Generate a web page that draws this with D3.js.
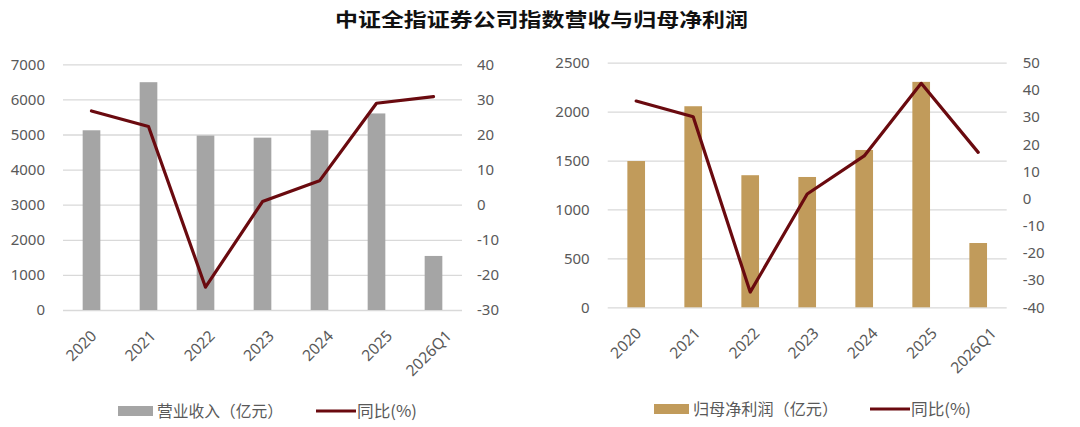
<!DOCTYPE html>
<html><head><meta charset="utf-8">
<script src="https://cdn.jsdelivr.net/npm/d3@7"></script>
<style>
body{margin:0;background:#fff;}
svg{display:block;font-family:"Noto Sans CJK SC","Noto Sans",sans-serif;}
</style></head>
<body><svg id="c" width="1080" height="427"></svg>
<script>
const categories = ["2020","2021","2022","2023","2024","2025","2026Q1"];
const revenue = [5120, 6490, 4970, 4910, 5120, 5600, 1540];
const revenueYoY = [26.7, 22.3, -23.5, 0.9, 6.8, 28.9, 30.8];
const profit = [1495, 2055, 1350, 1332, 1608, 2304, 657];
const profitYoY = [35.9, 30.1, -34.4, 1.7, 15.7, 42.4, 17.0];
const leftTicksA = [0,1000,2000,3000,4000,5000,6000,7000];
const rightTicksA = [-30,-20,-10,0,10,20,30,40];
const leftTicksB = [0,500,1000,1500,2000,2500];
const rightTicksB = [-40,-30,-20,-10,0,10,20,30,40,50];
const title = "中证全指证券公司指数营收与归母净利润";

const svg = d3.select("#c");
const LINE = "#6A0A0F", GRID = "#D9D9D9", TXT = "#595959";
const NUMFONT = "'Noto Sans',sans-serif";

svg.append("text").attr("x", 541.5).attr("y", 27).attr("text-anchor","middle")
  .attr("font-size", 19).attr("font-weight","bold").attr("fill","#111")
  .attr("textLength", 413).attr("lengthAdjust","spacingAndGlyphs").text(title);

function panel(o){
  const g = svg.append("g");
  const x = d3.scaleBand().domain(categories).range([o.x0, o.x1]).paddingInner(0.69).paddingOuter(0.345);
  const xl = d3.scalePoint().domain(categories).range([o.x0+34, o.x1-10]);
  const yl = d3.scaleLinear().domain([o.lt[0], o.lt[o.lt.length-1]]).range([o.yb, o.yt]);
  const yr = d3.scaleLinear().domain([o.rt[0], o.rt[o.rt.length-1]]).range([o.yb, o.yt]);
  // grid + left axis
  g.append("g").attr("transform",`translate(${o.x0},0)`)
    .call(d3.axisLeft(yl).tickValues(o.lt).tickSize(-(o.x1-o.x0)).tickPadding(18).tickFormat(d=>String(d)))
    .call(a=>a.select(".domain").remove())
    .call(a=>a.selectAll("line").attr("stroke",GRID).attr("stroke-width",1.3))
    .call(a=>a.selectAll("text").attr("fill",TXT).attr("font-size",15).attr("font-family",NUMFONT));
  g.append("g").attr("transform",`translate(${o.x1},0)`)
    .call(d3.axisRight(yr).tickValues(o.rt).tickSize(0).tickPadding(o.rpad).tickFormat(d=>String(d)))
    .call(a=>a.select(".domain").remove())
    .call(a=>a.selectAll("text").attr("fill",TXT).attr("font-size",15).attr("font-family",NUMFONT));
  // bars
  g.selectAll("rect.bar").data(o.bars).join("rect").attr("class","bar")
    .attr("x",(d,i)=>x(categories[i])).attr("width",x.bandwidth())
    .attr("y",d=>yl(d)).attr("height",d=>yl(0)-yl(d)).attr("fill",o.color);
  // x labels
  const xa = g.append("g").attr("transform",`translate(0,${o.yb+27})`)
    .call(d3.axisBottom(xl).tickSize(0).tickPadding(0));
  xa.select(".domain").remove();
  xa.selectAll("text").attr("fill",TXT).attr("font-size",15.5).attr("font-family",NUMFONT)
    .attr("text-anchor","end").attr("dy",0).attr("y",0)
    .attr("transform","rotate(-45)");
  // line
  const line = d3.line().x((d,i)=>x(categories[i])+x.bandwidth()/2).y(d=>yr(d));
  g.append("path").datum(o.yoy).attr("d",line).attr("fill","none")
    .attr("stroke",LINE).attr("stroke-width",3.2).attr("stroke-linejoin","round").attr("stroke-linecap","round");
  // legend
  const lg = g.append("g");
  lg.append("rect").attr("x",o.lx).attr("y",o.ly-5).attr("width",35).attr("height",10).attr("fill",o.color);
  lg.append("text").attr("x",o.lx+39).attr("y",o.ly+6).attr("font-size",16).attr("fill",TXT)
    .attr("textLength",o.lw).attr("lengthAdjust","spacingAndGlyphs").text(o.label);
  lg.append("line").attr("x1",o.lx2).attr("x2",o.lx2+40).attr("y1",o.ly).attr("y2",o.ly)
    .attr("stroke",LINE).attr("stroke-width",3.2);
  lg.append("text").attr("x",o.lx2+41).attr("y",o.ly+6).attr("font-size",16).attr("fill",TXT)
    .attr("textLength",60).attr("lengthAdjust","spacingAndGlyphs").text("同比(%)");
}

panel({x0:63,x1:462,yt:64.3,yb:310,lt:leftTicksA,rt:rightTicksA,bars:revenue,yoy:revenueYoY,
  color:"#A5A5A5",rpad:15,lx:118,lx2:316,ly:411,lw:126,label:"营业收入（亿元）"});
panel({x0:607.7,x1:1006.7,yt:62.7,yb:307.3,lt:leftTicksB,rt:rightTicksB,bars:profit,yoy:profitYoY,
  color:"#C19B5B",rpad:16,lx:654,lx2:870,ly:409,lw:145,label:"归母净利润（亿元）"});
</script></body></html>
